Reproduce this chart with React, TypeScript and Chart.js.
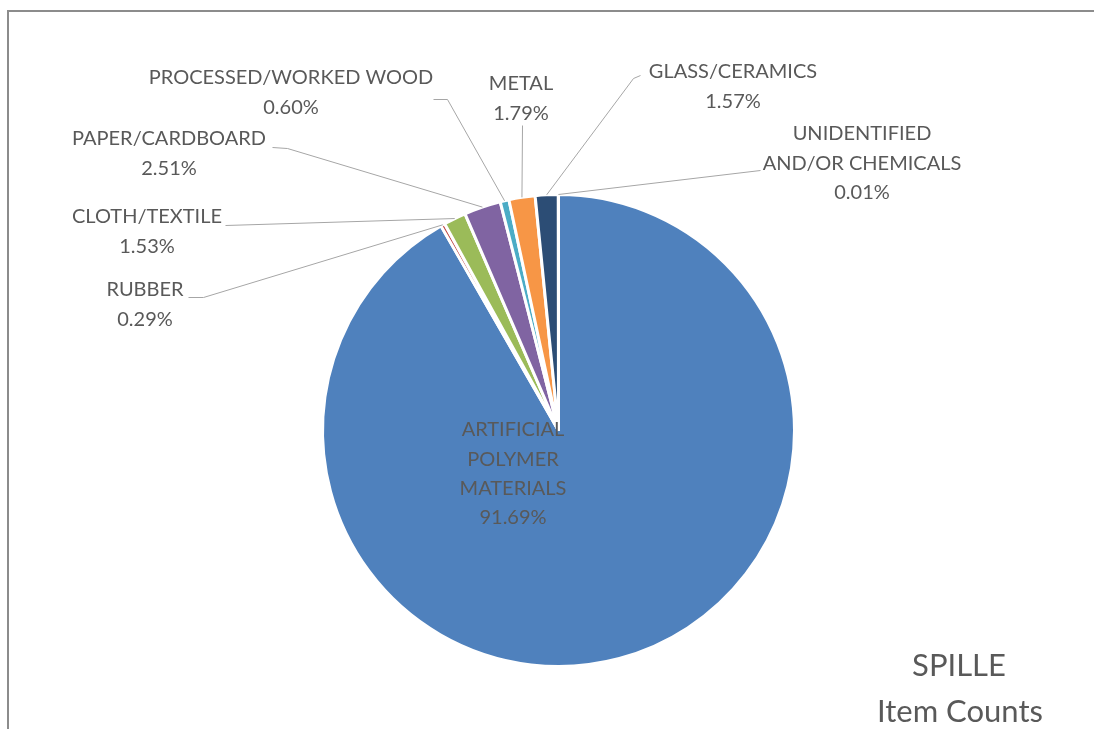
import React, { useEffect, useRef } from "react";
import { Chart, registerables } from "chart.js";

Chart.register(...registerables);

const categories = [
  "ARTIFICIAL POLYMER MATERIALS",
  "RUBBER",
  "CLOTH/TEXTILE",
  "PAPER/CARDBOARD",
  "PROCESSED/WORKED WOOD",
  "METAL",
  "GLASS/CERAMICS",
  "UNIDENTIFIED AND/OR CHEMICALS",
];
const percentages = [91.69, 0.29, 1.53, 2.51, 0.6, 1.79, 1.57, 0.01];
const labelLines = [
  ["ARTIFICIAL", "POLYMER", "MATERIALS"],
  ["RUBBER"],
  ["CLOTH/TEXTILE"],
  ["PAPER/CARDBOARD"],
  ["PROCESSED/WORKED WOOD"],
  ["METAL"],
  ["GLASS/CERAMICS"],
  ["UNIDENTIFIED", "AND/OR CHEMICALS"],
];
const sliceColors = [
  "#4F81BD",
  "#C0504D",
  "#9BBB59",
  "#8064A2",
  "#4BACC6",
  "#F79646",
  "#2C4D75",
  "#772C2A",
];
const titleLines = ["SPILLE", "Item Counts"];

// label layout: text centre x, first line y, leader start point, elbow point
const labelLayout = [
  { x: 513, y: 430, leader: null },
  { x: 145, y: 290, leader: { start: [188, 297], elbow: [203, 297] } },
  { x: 147, y: 217, leader: { start: [225, 225], elbow: [225, 225] } },
  { x: 169, y: 139, leader: { start: [272, 147], elbow: [287, 148] } },
  { x: 291, y: 78, leader: { start: [433, 99], elbow: [447, 99] } },
  { x: 521, y: 84, leader: { start: [522, 125], elbow: [522, 125] } },
  { x: 733, y: 72, leader: { start: [640, 75], elbow: [633, 78] } },
  { x: 862, y: 134, leader: { start: [760, 170], elbow: [760, 170] } },
];

const TEXT = "#595959";
const FONT = "Lato, 'Open Sans', sans-serif";

const labelPlugin = {
  id: "excelLabels",
  beforeDraw(chart: any) {
    const ctx = chart.ctx;
    ctx.save();
    ctx.strokeStyle = "#8c8c8c";
    ctx.lineWidth = 2;
    ctx.beginPath();
    ctx.moveTo(8, 729);
    ctx.lineTo(8, 11);
    ctx.lineTo(1094, 11);
    ctx.stroke();
    ctx.restore();
  },
  afterDraw(chart: any) {
    const ctx = chart.ctx;
    const meta = chart.getDatasetMeta(0);
    ctx.save();
    ctx.strokeStyle = "#a6a6a6";
    ctx.lineWidth = 1;
    meta.data.forEach((arc: any, i: number) => {
      const lay = labelLayout[i];
      if (!lay.leader) return;
      const { x, y, startAngle, endAngle, outerRadius } = arc.getProps(
        ["x", "y", "startAngle", "endAngle", "outerRadius"],
        true
      );
      const mid = (startAngle + endAngle) / 2;
      const ex = x + Math.cos(mid) * outerRadius;
      const ey = y + Math.sin(mid) * outerRadius;
      ctx.beginPath();
      ctx.moveTo(lay.leader.start[0] + 0.5, lay.leader.start[1] + 0.5);
      ctx.lineTo(lay.leader.elbow[0] + 0.5, lay.leader.elbow[1] + 0.5);
      ctx.lineTo(ex, ey);
      ctx.stroke();
    });
    ctx.fillStyle = TEXT;
    ctx.font = `20px ${FONT}`;
    ctx.textAlign = "center";
    ctx.textBaseline = "middle";
    labelLines.forEach((lines, i) => {
      const lay = labelLayout[i];
      const all = [...lines, percentages[i].toFixed(2) + "%"];
      all.forEach((t, j) => ctx.fillText(t, lay.x, lay.y + j * 29.3));
    });
    ctx.font = `31px ${FONT}`;
    ctx.fillText(titleLines[0], 959, 666);
    ctx.fillText(titleLines[1], 960, 712);
    ctx.restore();
  },
};

export default function App() {
  const ref = useRef<HTMLCanvasElement>(null);
  useEffect(() => {
    if (!ref.current) return;
    const chart = new Chart(ref.current, {
      type: "pie",
      data: {
        labels: categories,
        datasets: [
          {
            data: percentages,
            backgroundColor: sliceColors,
            borderColor: "#ffffff",
            borderWidth: 3,
          },
        ],
      },
      options: {
        responsive: false,
        animation: false,
        events: [],
        layout: { padding: { left: 321, right: 298, top: 193, bottom: 61 } },
        plugins: {
          legend: { display: false },
          tooltip: { enabled: false },
        },
      },
      plugins: [labelPlugin],
    });
    return () => chart.destroy();
  }, []);
  return (
    <div style={{ position: "fixed", left: 0, top: 0, width: 1094, height: 729, background: "#fff" }}>
      <canvas ref={ref} width={1094} height={729} />
    </div>
  );
}
